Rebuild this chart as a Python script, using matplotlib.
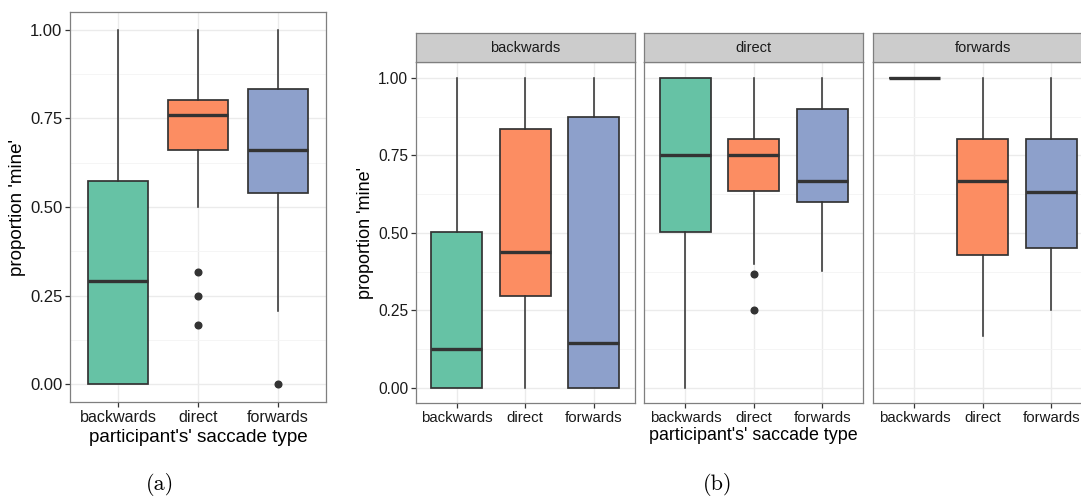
import numpy as np
import matplotlib
matplotlib.use("Agg")
import matplotlib.pyplot as plt
from matplotlib.ticker import MultipleLocator

plt.rcParams['font.family'] = ['Liberation Sans', 'DejaVu Sans']

# saccade types (x categories and facets)
cats = ['backwards', 'direct', 'forwards']
colors = ['#66c2a5', '#fc8d62', '#8da0cb']

# (a) pooled over the partner's saccade type
all_lo = [0.00, 0.50, 0.208]
all_q1 = [0.00, 0.660, 0.540]
all_med = [0.291, 0.759, 0.660]
all_q3 = [0.574, 0.802, 0.833]
all_hi = [1.00, 1.00, 1.00]
all_fliers = [[], [0.317, 0.25, 0.166], [0.0]]

# (b) split by facet (partner's saccade type); one row per facet
facet_lo = [[0.00, 0.00, 0.00], [0.00, 0.400, 0.376], [1.00, 0.168, 0.25]]
facet_q1 = [[0.00, 0.297, 0.00], [0.501, 0.634, 0.600], [1.00, 0.428, 0.452]]
facet_med = [[0.125, 0.437, 0.143], [0.750, 0.750, 0.667], [1.00, 0.667, 0.633]]
facet_q3 = [[0.501, 0.834, 0.875], [1.00, 0.804, 0.900], [1.00, 0.801, 0.801]]
facet_hi = [[1.00, 1.00, 1.00], [1.00, 1.00, 1.00], [1.00, 1.00, 1.00]]
facet_fliers = [[[], [], []], [[], [0.368, 0.25], []], [[], [], []]]

W, H = 1081, 496
fig = plt.figure(figsize=(W / 100, H / 100), dpi=100)


def px_axes(x0, y0, x1, y1):
    return fig.add_axes([x0 / W, 1 - y1 / H, (x1 - x0) / W, (y1 - y0) / H])


def draw_boxes(ax, lo, q1, med, q3, hi, fliers, xsize, ysize):
    stats = []
    for i in range(len(cats)):
        stats.append(dict(whislo=lo[i], q1=q1[i], med=med[i], q3=q3[i],
                          whishi=hi[i], fliers=fliers[i]))
    bp = ax.bxp(stats, positions=[1, 2, 3], widths=0.75, patch_artist=True,
                showcaps=False,
                boxprops=dict(edgecolor='#333333', linewidth=1.25),
                medianprops=dict(color='#333333', linewidth=2.4),
                whiskerprops=dict(color='#333333', linewidth=1.15),
                flierprops=dict(marker='o', markerfacecolor='#333333',
                                markeredgecolor='#333333', markersize=4.8))
    for patch, c in zip(bp['boxes'], colors):
        patch.set_facecolor(c)
    for m in bp['medians']:
        m.set_solid_capstyle('butt')
    ax.set_xlim(0.4, 3.6)
    ax.set_ylim(-0.05, 1.05)
    ax.set_xticks([1, 2, 3])
    ax.set_xticklabels(cats)
    ax.yaxis.set_major_locator(MultipleLocator(0.25))
    ax.yaxis.set_minor_locator(MultipleLocator(0.125))
    ax.yaxis.set_major_formatter(lambda v, p: f"{v:.2f}")
    ax.grid(which='major', color='#ebebeb', linewidth=1.0)
    ax.grid(which='minor', axis='y', color='#f4f4f4', linewidth=0.6)
    ax.set_axisbelow(True)
    ax.tick_params(which='minor', length=0)
    ax.tick_params(which='major', length=3.5, width=0.9, color='#333333',
                   labelcolor='#1a1a1a', pad=2)
    ax.tick_params(axis='x', labelsize=xsize)
    ax.tick_params(axis='y', labelsize=ysize)
    for s in ax.spines.values():
        s.set_color('#7f7f7f')
        s.set_linewidth(0.9)


# ---- (a) ----
ax_a = px_axes(70, 12, 326, 402)
draw_boxes(ax_a, all_lo, all_q1, all_med, all_q3, all_hi, all_fliers, 11.6, 12)
ax_a.set_ylabel("proportion 'mine'", fontsize=13.5, labelpad=3)
ax_a.set_xlabel("participant's' saccade type", fontsize=13.6, labelpad=3)

# ---- (b) ----
lefts = [415.7, 644.3, 873.3]
fw = 219
for k, name in enumerate(cats):
    ax = px_axes(lefts[k], 62.3, lefts[k] + fw, 403.3)
    draw_boxes(ax, facet_lo[k], facet_q1[k], facet_med[k], facet_q3[k],
               facet_hi[k], facet_fliers[k], 10.8, 11.2)
    if k == 0:
        ax.set_ylabel("proportion 'mine'", fontsize=13, labelpad=3)
    else:
        ax.tick_params(axis='y', which='both', left=False, labelleft=False)
    if k == 1:
        ax.set_xlabel("participant's' saccade type", fontsize=12.9, labelpad=1.5)
    strip = px_axes(lefts[k], 33.3, lefts[k] + fw, 62.3)
    strip.set_facecolor('#cccccc')
    strip.set_xticks([])
    strip.set_yticks([])
    for s in strip.spines.values():
        s.set_color('#7f7f7f')
        s.set_linewidth(0.9)
    strip.text(0.5, 0.5, name, ha='center', va='center', fontsize=10.5,
               color='#1a1a1a', transform=strip.transAxes)

# sub-figure captions
fig.text(160 / W, 1 - 485 / H, "(a)", ha='center', va='center',
         fontsize=16, family='cmr10')
fig.text(718 / W, 1 - 485 / H, "(b)", ha='center', va='center',
         fontsize=16, family='cmr10')

fig.savefig("out.png", dpi=100)
